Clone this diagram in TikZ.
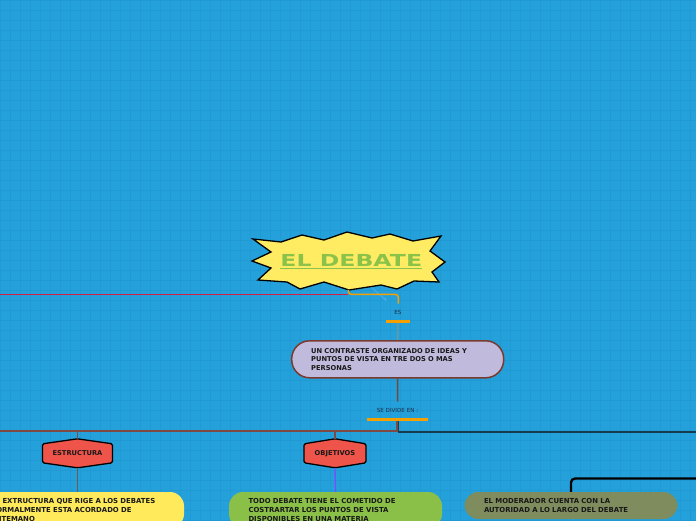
\documentclass[tikz,border=0pt]{standalone}
\usepackage{fontspec}
\setmainfont{DejaVu Sans}
\usepackage{graphicx}
\usepackage{tikz}
\usetikzlibrary{
    arrows.meta,
    positioning,
    calc
}
\tikzset{
  ideabox/.style = {draw=DescBrown, line width=1.5pt, fill=Lavender, rounded corners=18pt,
                    minimum width=212pt, minimum height=37pt, text width=173pt,
                    inner xsep=19.5pt, inner ysep=0pt, align=left, text=InkDark,
                    font=\bfseries\fontsize{6.7}{8.6}\selectfont},
  leafbox/.style = {rounded corners=14pt, minimum height=27pt, text width=174pt,
                    inner xsep=19.5pt, inner ysep=0pt, align=left, text=InkDark,
                    font=\bfseries\fontsize{6.9}{8.6}\selectfont},
  hexbox/.style  = {draw=black, line width=1.3pt, fill=HexRed, rounded corners=1.5pt},
  hexlbl/.style  = {minimum width=70pt, minimum height=29pt, inner sep=0pt, text=InkDark,
                    font=\bfseries\fontsize{6.7}{8}\selectfont},
  tag/.style     = {inner sep=1pt, text=TagInk, font=\fontsize{5.6}{6}\selectfont},
  tagbar/.style  = {fill=LinkOrange, minimum height=3pt, inner sep=0pt},
  link/.style    = {line width=1.5pt}
}
\definecolor{SkyBg}{RGB}{36,160,218}
\definecolor{SkyGrid}{RGB}{33,154,211}
\definecolor{StarYellow}{RGB}{255,236,98}
\definecolor{TitleGreen}{RGB}{139,195,74}
\definecolor{LinkRed}{RGB}{212,32,72}
\definecolor{LinkOrange}{RGB}{245,160,0}
\definecolor{GhostBlue}{RGB}{70,172,236}
\definecolor{Lavender}{RGB}{192,186,220}
\definecolor{DescBrown}{RGB}{122,58,46}
\definecolor{StemGray}{RGB}{140,150,128}
\definecolor{StemBrown}{RGB}{112,72,62}
\definecolor{BranchBrown}{RGB}{128,74,68}
\definecolor{BranchTeal}{RGB}{22,60,80}
\definecolor{HexRed}{RGB}{238,84,74}
\definecolor{LeafYellow}{RGB}{255,234,92}
\definecolor{LeafGreen}{RGB}{138,192,72}
\definecolor{LeafOlive}{RGB}{126,140,94}
\definecolor{StemPurple}{RGB}{124,77,255}
\definecolor{StemTaupe}{RGB}{108,90,84}
\definecolor{InkDark}{RGB}{25,25,25}
\definecolor{TagInk}{RGB}{28,48,72}

% flat hexagon behind a label: centre x, centre y, half width
\newcommand{\hexplate}[3]{%
  \draw[hexbox] (#1-#3,#2-9.5) -- (#1,#2-14.5) -- (#1+#3,#2-9.5) --
    (#1+#3,#2+9.5) -- (#1,#2+14.5) -- (#1-#3,#2+9.5) -- cycle;}

\begin{document}
\begin{tikzpicture}[x=1pt, y=-1pt, every node/.style={font=\small}]
\useasboundingbox (0,0) rectangle (696,520);
\clip (0,0) rectangle (696,520);
\fill[SkyBg] (0,0) rectangle (696,520);
\draw[SkyGrid, line width=0.5pt, step=10pt] (0,0) grid (696,520);

% central topic
\coordinate (ghostA) at (362,279);
\coordinate (ghostB) at (387,301);
\draw[GhostBlue, line width=1pt, -{Stealth[length=4pt]}] (ghostA) -- (ghostB);
\draw[fill=StarYellow, line width=1.3pt]
  (253,239) -- (281,242) -- (302,235) -- (324,240) -- (347,232) -- (372,238) --
  (390,234) -- (413,241) -- (441,236) -- (430,251) -- (445,262) -- (432,272) --
  (439,282) -- (414,281) -- (397,289) -- (381,285) -- (349,290) -- (324,282) --
  (300,289) -- (287,282) -- (258,280) -- (271,268) -- (252,261) -- (271,252) -- cycle;
\node[inner sep=0pt, text=TitleGreen, font=\bfseries\fontsize{16.5}{16.5}\selectfont] (t) at (351.3,260.3)
  {\scalebox{1.43}[1]{EL DEBATE}};
\draw[TitleGreen, line width=1.4pt] ([yshift=-2pt]t.base west) -- ([yshift=-2pt]t.base east);

\coordinate (starfoot) at (348.3,289.5);
\coordinate (offL) at (0,294.7);
\coordinate (esin) at (398.3,303.7);
\draw[LinkRed, link] (offL) -- (offL -| starfoot);
\draw[LinkOrange, link, rounded corners=3pt] (starfoot) -- ++(0,4.8) -| (esin);

% definition
\node[tag] (es) at (398,312.3) {ES};
\node[tagbar, minimum width=24pt, below=4pt of es] (esbar) {};
\node[ideabox] (desc) at (397.7,359.3) {UN CONTRASTE ORGANIZADO DE IDEAS Y\\PUNTOS DE VISTA EN TRE DOS O MAS\\PERSONAS};
\draw[StemGray, line width=1pt] (esbar.south) -- (desc.north);

\node[tag] (div) at (397.5,410) {SE DIVIDE EN :};
\node[tagbar, minimum width=61pt] (divbar) at (397.8,419.3) {};
\draw[StemBrown, link] (desc.south) -- ([yshift=5pt]div.north);

\coordinate (offL2) at (0,430.7);
\coordinate (offR2) at (696,432.2);
\draw[BranchBrown, line width=2pt] ([xshift=-0.6pt]divbar.south) |- (offL2);
\draw[BranchTeal, line width=1.6pt] ([xshift=0.6pt]divbar.south) |- (offR2);

% branches
\hexplate{77.5}{453.3}{35}
\node[hexlbl] (estr) at (77.5,453.3) {ESTRUCTURA};
\hexplate{335}{453.3}{31}
\node[hexlbl, minimum width=62pt] (obj) at (335,453.3) {OBJETIVOS};
\draw[BranchBrown, link] (estr.north |- offL2) -- (estr.north);
\draw[BranchBrown, link] (obj.north |- offL2) -- (obj.north);

\node[leafbox, fill=LeafYellow, minimum height=36pt] (yb) at (77.5,510)
  {LA EXTRUCTURA QUE RIGE A LOS DEBATES\\NORMALMENTE ESTA ACORDADO DE\\ANTEMANO};
\node[leafbox, fill=LeafGreen, minimum height=36pt] (gb) at (335.5,510)
  {TODO DEBATE TIENE EL COMETIDO DE\\COSTRARTAR LOS PUNTOS DE VISTA\\DISPONIBLES EN UNA MATERIA};
\node[leafbox, fill=LeafOlive] (ob) at (571,505.5)
  {EL MODERADOR CUENTA CON LA\\AUTORIDAD A LO LARGO DEL DEBATE};
\draw[StemTaupe, line width=1.3pt] (estr.south) -- (yb.north);
\draw[StemPurple, line width=1.3pt] (obj.south) -- (gb.north);

\coordinate (offR3) at (696,478.5);
\draw[black, line width=2.3pt, rounded corners=4pt] (ob.north) |- (offR3);
\end{tikzpicture}
\end{document}
